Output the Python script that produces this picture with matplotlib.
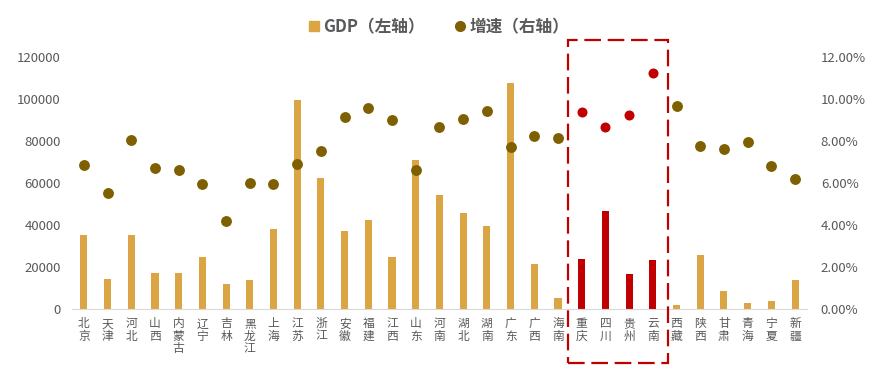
import matplotlib.pyplot as plt
from matplotlib.lines import Line2D
from matplotlib.patches import Rectangle
import matplotlib.transforms as mtransforms
import numpy as np

plt.rcParams['font.family'] = ['Noto Sans CJK SC', 'DejaVu Sans']

provinces = ['北京', '天津', '河北', '山西', '内蒙古', '辽宁', '吉林', '黑龙江', '上海', '江苏',
             '浙江', '安徽', '福建', '江西', '山东', '河南', '湖北', '湖南', '广东', '广西',
             '海南', '重庆', '四川', '贵州', '云南', '西藏', '陕西', '甘肃', '青海', '宁夏', '新疆']
gdp = [35371, 14104, 35105, 17027, 17213, 24909, 11727, 13613, 38155, 99632,
       62352, 37114, 42395, 24758, 71067, 54259, 45828, 39752, 107671, 21237,
       5309, 23606, 46616, 16769, 23224, 1698, 25793, 8718, 2966, 3748, 13597]
growth = [6.86, 5.54, 8.05, 6.73, 6.62, 5.95, 4.21, 6.00, 5.97, 6.90,
          7.52, 9.16, 9.59, 9.02, 6.62, 8.68, 9.06, 9.44, 7.73, 8.25,
          8.16, 9.37, 8.67, 9.24, 11.22, 9.67, 7.78, 7.63, 7.97, 6.83, 6.19]
highlight = ['重庆', '四川', '贵州', '云南']

GOLD = '#DBA543'
BROWN = '#7F6000'
RED = '#C00000'
GRAY = '#595959'

x = np.arange(len(provinces))
is_hl = np.array([p in highlight for p in provinces])

fig = plt.figure(figsize=(8.93, 3.81), dpi=100)
ax = fig.add_axes([0.0806, 0.189, 0.823, 0.6615])
ax2 = ax.twinx()

bar_colors = [RED if h else GOLD for h in is_hl]
ax.bar(x, gdp, width=0.3, color=bar_colors, zorder=2)
ax.set_ylim(0, 120000)
ax.set_xlim(-0.5, len(provinces) - 0.5)
ax.set_yticks(np.arange(0, 120001, 20000))
ax.set_yticklabels([str(v) for v in range(0, 120001, 20000)])

g = np.array(growth)
ax2.plot(x[~is_hl], g[~is_hl], 'o', color=BROWN, markersize=6.8, zorder=3)
ax2.plot(x[is_hl], g[is_hl], 'o', color=RED, markersize=6.2, zorder=3)
ax2.set_ylim(0, 12)
ax2.set_yticks(np.arange(0, 12.01, 2))
ax2.set_yticklabels([f'{v:.2f}%' for v in np.arange(0, 12.01, 2)])

for a in (ax, ax2):
    for s in ('top', 'left', 'right'):
        a.spines[s].set_visible(False)
    a.spines['bottom'].set_color('#D9D9D9')
    a.tick_params(axis='y', length=0, labelsize=9.5, labelcolor=GRAY)
ax.tick_params(axis='y', pad=8)
ax2.tick_params(axis='y', pad=10)
ax2.spines['bottom'].set_visible(False)

ax.set_xticks(x)
ax.set_xticklabels(['\n'.join(p) for p in provinces], fontsize=8.5, color=GRAY, linespacing=0.95)
ax.tick_params(axis='x', length=0, pad=6)

# dashed box round the highlighted provinces
trans = mtransforms.blended_transform_factory(ax.transData, fig.transFigure)
box = Rectangle((20.43, 1 - 362.7 / 381), 24.62 - 20.43, (362.7 - 40) / 381,
                transform=trans, fill=False, edgecolor=RED, linewidth=1.6,
                linestyle=(0, (7.5, 3)), clip_on=False, zorder=5)
fig.add_artist(box)

handles = [Line2D([], [], marker='s', color=GOLD, linestyle='none', markersize=6.5),
           Line2D([], [], marker='o', color=BROWN, linestyle='none', markersize=7)]
fig.legend(handles, ['GDP（左轴）', '增速（右轴）'], loc='center', bbox_to_anchor=(0.49, 0.929),
           ncol=2, frameon=False, handletextpad=0.05, handlelength=1.0, columnspacing=1.6,
           prop={'size': 12, 'weight': 'bold'}, labelcolor=GRAY)

fig.savefig('out.png', dpi=100)
